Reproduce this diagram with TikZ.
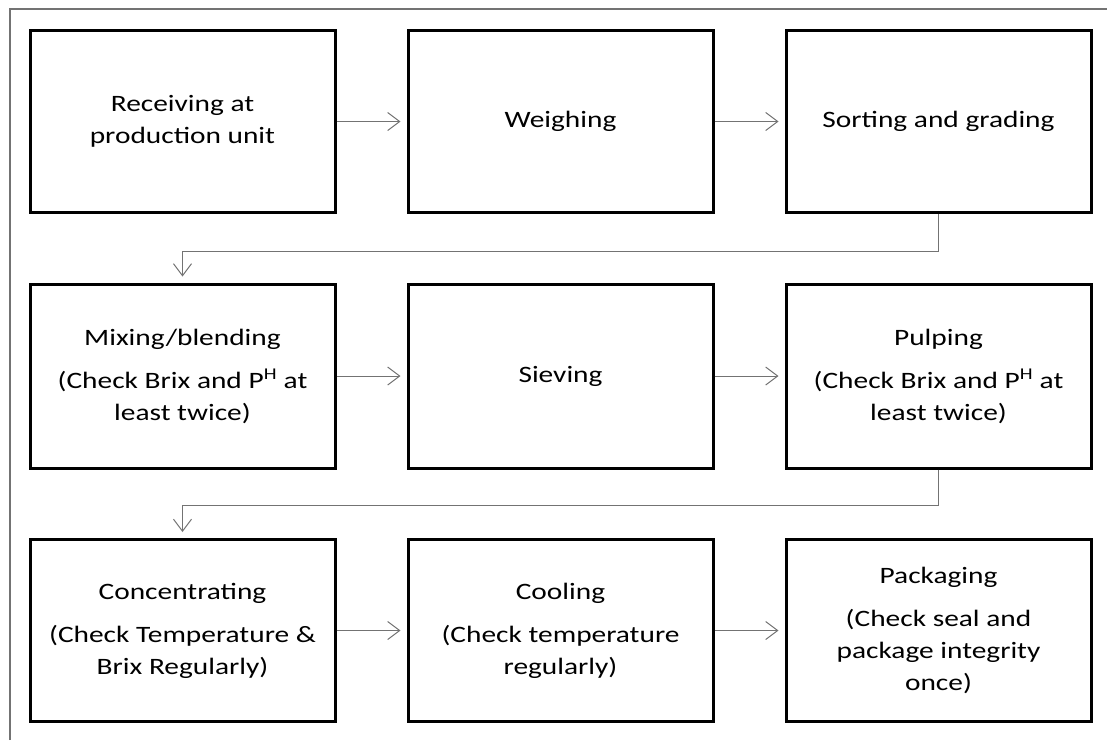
\documentclass[tikz,border=0pt]{standalone}
\usepackage{fontspec}
\setmainfont{Carlito}[FakeStretch=1.25]
\usetikzlibrary{arrows.meta}
\tikzset{
  stepbox/.style={draw=black, line width=3pt, minimum width=305pt, minimum height=182pt, align=center, inner sep=0pt, font=\fontsize{23.5}{32}\selectfont, text=black},
  conn/.style={draw=black!55, line width=1pt, -{Straight Barb[length=12pt,width=18pt,line width=1pt]}, shorten >=6pt},
  frame/.style={draw=black!55, line width=1.5pt}
}
\newcommand{\ttl}[1]{#1\\[11pt]}
\begin{document}
\begin{tikzpicture}[x=1pt,y=-1pt]
\useasboundingbox (0,0) rectangle (1107,740);
\coordinate (fa) at (10,740);
\coordinate (fb) at (10,9);
\coordinate (fc) at (1107,9);
\draw[frame] (fa) -- (fb) -- (fc);

\node[stepbox] (r1) at (182.5,121.5) {Receiving at\\production unit};
\node[stepbox] (r2) at (560.5,121.5) {Weighing};
\node[stepbox] (r3) at (938.5,121.5) {Sorting and grading};

\node[stepbox, minimum height=184pt] (m1) at (182.5,376) {\ttl{Mixing/blending}(Check Brix and P\textsuperscript{H} at\\least twice)};
\node[stepbox, minimum height=184pt] (m2) at (560.5,376) {Sieving};
\node[stepbox, minimum height=184pt] (m3) at (938.5,376) {\ttl{Pulping}(Check Brix and P\textsuperscript{H} at\\least twice)};

\node[stepbox] (b1) at (182.5,630.5) {\ttl{Concentrating}(Check Temperature \&\\Brix Regularly)};
\node[stepbox] (b2) at (560.5,630.5) {\ttl{Cooling}(Check temperature\\regularly)};
\node[stepbox] (b3) at (938.5,630.5) {\ttl{Packaging}(Check seal and\\package integrity\\once)};

\draw[conn] (r1.east) -- (r2.west);
\draw[conn] (r2.east) -- (r3.west);
\draw[conn] (m1.east) -- (m2.west);
\draw[conn] (m2.east) -- (m3.west);
\draw[conn] (b1.east) -- (b2.west);
\draw[conn] (b2.east) -- (b3.west);

\draw[conn] (r3.south) -- ++(0,37) -| (m1.north);
\draw[conn] (m3.south) -- ++(0,36) -| (b1.north);
\end{tikzpicture}
\end{document}
